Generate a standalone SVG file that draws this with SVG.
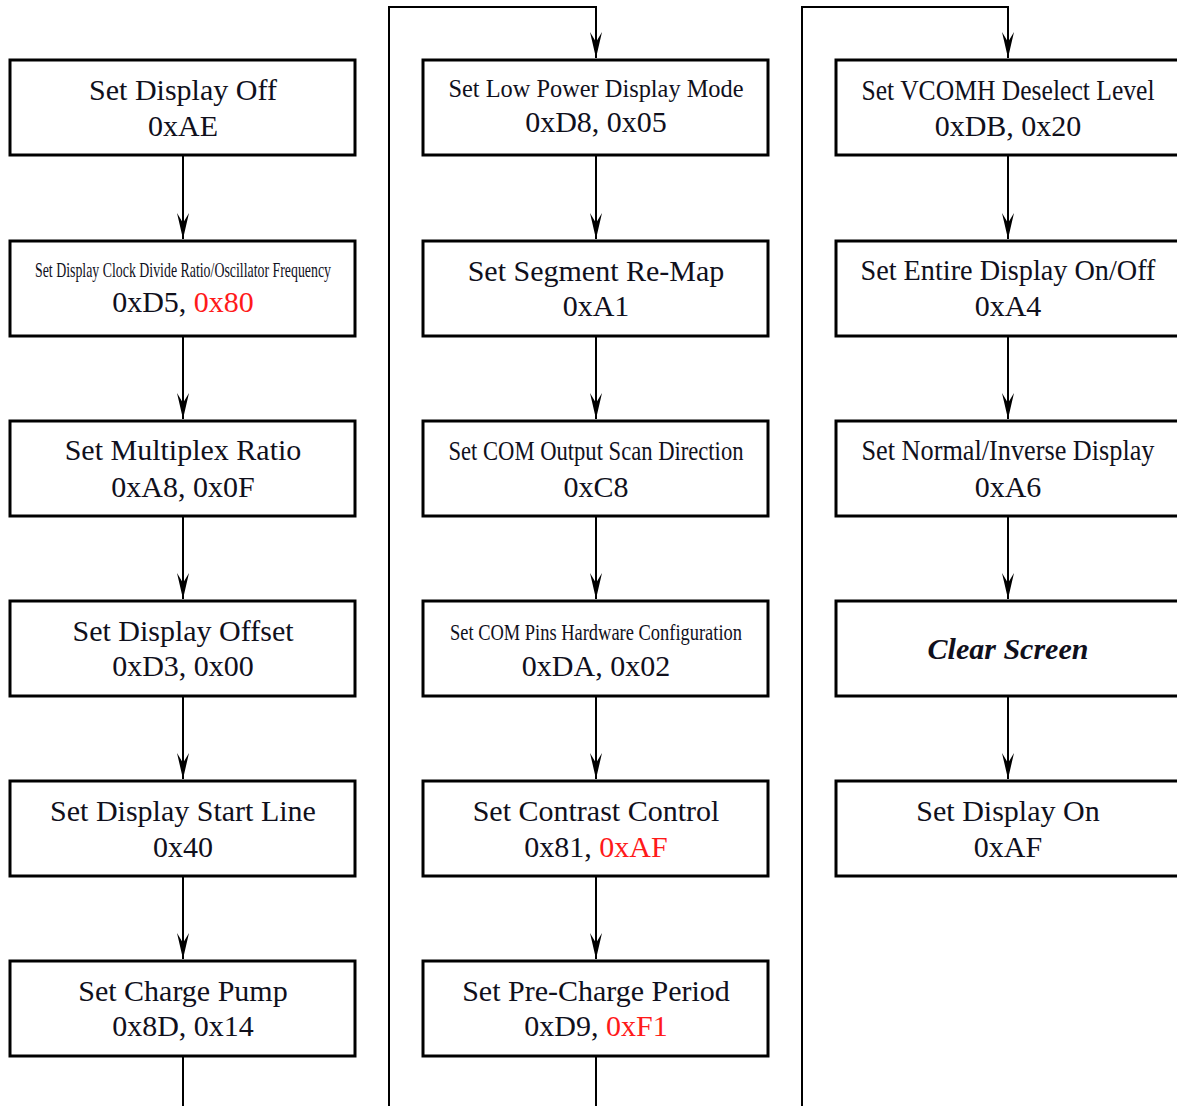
<svg xmlns="http://www.w3.org/2000/svg" width="1177" height="1106" viewBox="0 0 1177 1106">
<style>
.box{fill:#fff;stroke:#000;stroke-width:3}
.conn{fill:none;stroke:#000;stroke-width:2}
text{font-family:"Liberation Serif","Times New Roman",serif;fill:#10101c;text-anchor:middle}
.t{font-size:30px}
.v{font-size:30px}
.r{fill:#ff1a1a}
.bi{font-weight:bold;font-style:italic}
</style>
<defs>
<marker id="ah" markerUnits="userSpaceOnUse" markerWidth="30" markerHeight="16" viewBox="-28 -8 30 16" refX="0" refY="0" orient="auto">
<path d="M0,0 L-26,-6 L-16,0 L-26,6 Z" fill="#000"/>
</marker>
</defs>
<rect width="1177" height="1106" fill="#fff"/>
<g id="connectors">
<path class="conn" d="M183,155 V239" marker-end="url(#ah)"/>
<path class="conn" d="M183,336 V419" marker-end="url(#ah)"/>
<path class="conn" d="M183,516 V599" marker-end="url(#ah)"/>
<path class="conn" d="M183,696 V779" marker-end="url(#ah)"/>
<path class="conn" d="M183,876 V959" marker-end="url(#ah)"/>
<path class="conn" d="M183,1056 V1110"/>
<path class="conn" d="M389,1110 V7 H596 V58" marker-end="url(#ah)"/>
<path class="conn" d="M596,155 V239" marker-end="url(#ah)"/>
<path class="conn" d="M596,336 V419" marker-end="url(#ah)"/>
<path class="conn" d="M596,516 V599" marker-end="url(#ah)"/>
<path class="conn" d="M596,696 V779" marker-end="url(#ah)"/>
<path class="conn" d="M596,876 V959" marker-end="url(#ah)"/>
<path class="conn" d="M596,1056 V1110"/>
<path class="conn" d="M802,1110 V7 H1008 V58" marker-end="url(#ah)"/>
<path class="conn" d="M1008,155 V239" marker-end="url(#ah)"/>
<path class="conn" d="M1008,336 V419" marker-end="url(#ah)"/>
<path class="conn" d="M1008,516 V599" marker-end="url(#ah)"/>
<path class="conn" d="M1008,696 V779" marker-end="url(#ah)"/>
</g>
<g id="n1"><rect class="box" x="10" y="60" width="345" height="95"/><text class="t" x="183" y="100">Set Display Off</text><text class="v" x="183" y="136">0xAE</text></g>
<g id="n2"><rect class="box" x="10" y="241" width="345" height="95"/><text x="183" y="277" font-size="22" textLength="296" lengthAdjust="spacingAndGlyphs">Set Display Clock Divide Ratio/Oscillator Frequency</text><text class="v" x="183" y="312">0xD5, <tspan class="r">0x80</tspan></text></g>
<g id="n3"><rect class="box" x="10" y="421" width="345" height="95"/><text class="t" x="183" y="460">Set Multiplex Ratio</text><text class="v" x="183" y="497">0xA8, 0x0F</text></g>
<g id="n4"><rect class="box" x="10" y="601" width="345" height="95"/><text class="t" x="183" y="641">Set Display Offset</text><text class="v" x="183" y="676">0xD3, 0x00</text></g>
<g id="n5"><rect class="box" x="10" y="781" width="345" height="95"/><text class="t" x="183" y="821">Set Display Start Line</text><text class="v" x="183" y="857">0x40</text></g>
<g id="n6"><rect class="box" x="10" y="961" width="345" height="95"/><text class="t" x="183" y="1001">Set Charge Pump</text><text class="v" x="183" y="1036">0x8D, 0x14</text></g>
<g id="n7"><rect class="box" x="423" y="60" width="345" height="95"/><text x="596" y="97" font-size="25" textLength="295" lengthAdjust="spacingAndGlyphs">Set Low Power Display Mode</text><text class="v" x="596" y="132">0xD8, 0x05</text></g>
<g id="n8"><rect class="box" x="423" y="241" width="345" height="95"/><text class="t" x="596" y="281">Set Segment Re-Map</text><text class="v" x="596" y="316">0xA1</text></g>
<g id="n9"><rect class="box" x="423" y="421" width="345" height="95"/><text x="596" y="460" font-size="27" textLength="295" lengthAdjust="spacingAndGlyphs">Set COM Output Scan Direction</text><text class="v" x="596" y="497">0xC8</text></g>
<g id="n10"><rect class="box" x="423" y="601" width="345" height="95"/><text x="596" y="640" font-size="24" textLength="292" lengthAdjust="spacingAndGlyphs">Set COM Pins Hardware Configuration</text><text class="v" x="596" y="676">0xDA, 0x02</text></g>
<g id="n11"><rect class="box" x="423" y="781" width="345" height="95"/><text class="t" x="596" y="821">Set Contrast Control</text><text class="v" x="596" y="857">0x81, <tspan class="r">0xAF</tspan></text></g>
<g id="n12"><rect class="box" x="423" y="961" width="345" height="95"/><text class="t" x="596" y="1001">Set Pre-Charge Period</text><text class="v" x="596" y="1036">0xD9, <tspan class="r">0xF1</tspan></text></g>
<g id="n13"><rect class="box" x="836" y="60" width="345" height="95"/><text x="1008" y="100" font-size="29" textLength="293" lengthAdjust="spacingAndGlyphs">Set VCOMH Deselect Level</text><text class="v" x="1008" y="136">0xDB, 0x20</text></g>
<g id="n14"><rect class="box" x="836" y="241" width="345" height="95"/><text x="1008" y="280" font-size="29" textLength="295" lengthAdjust="spacingAndGlyphs">Set Entire Display On/Off</text><text class="v" x="1008" y="316">0xA4</text></g>
<g id="n15"><rect class="box" x="836" y="421" width="345" height="95"/><text x="1008" y="460" font-size="29" textLength="293" lengthAdjust="spacingAndGlyphs">Set Normal/Inverse Display</text><text class="v" x="1008" y="497">0xA6</text></g>
<g id="n16"><rect class="box" x="836" y="601" width="345" height="95"/><text class="t bi" x="1008" y="659">Clear Screen</text></g>
<g id="n17"><rect class="box" x="836" y="781" width="345" height="95"/><text class="t" x="1008" y="821">Set Display On</text><text class="v" x="1008" y="857">0xAF</text></g>
</svg>
